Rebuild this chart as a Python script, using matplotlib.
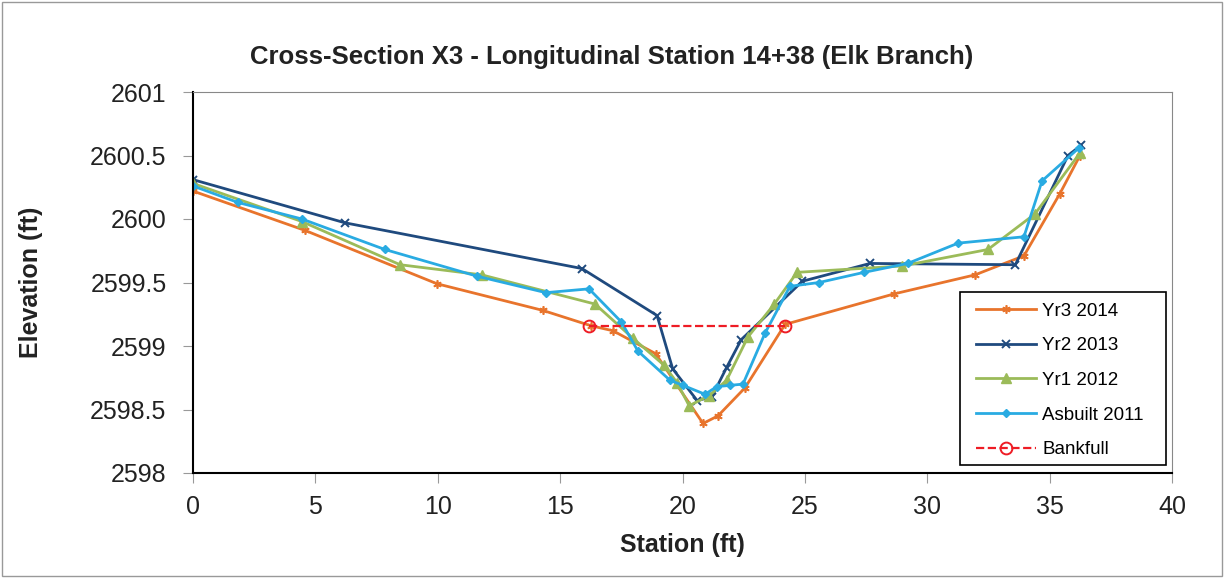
import matplotlib.pyplot as plt
import matplotlib.patches as mpatches
from matplotlib.ticker import FuncFormatter

plt.rcParams['font.family'] = ['Liberation Sans', 'DejaVu Sans']

# station / elevation readings for each survey
yr3_x = [0, 4.58, 9.97, 14.3, 16.25, 17.16, 18.9, 20.84, 21.45, 22.55, 24.19, 28.64, 31.95, 33.95, 35.42, 36.24]
yr3_y = [2600.22, 2599.91, 2599.49, 2599.28, 2599.16, 2599.12, 2598.94, 2598.39, 2598.45, 2598.67, 2599.17,
         2599.41, 2599.56, 2599.71, 2600.20, 2600.50]

yr2_x = [0, 6.21, 15.89, 18.96, 19.6, 20.6, 21.2, 21.8, 22.4, 24.9, 27.66, 33.6, 35.75, 36.28]
yr2_y = [2600.31, 2599.97, 2599.61, 2599.24, 2598.82, 2598.57, 2598.60, 2598.83, 2599.05, 2599.51, 2599.65,
         2599.64, 2600.50, 2600.58]

yr1_x = [0, 4.45, 8.46, 11.8, 16.43, 17.98, 19.24, 19.78, 20.27, 21.1, 21.8, 22.67, 23.75, 24.68, 28.97,
         32.48, 34.4, 36.24]
yr1_y = [2600.28, 2599.98, 2599.64, 2599.56, 2599.33, 2599.06, 2598.85, 2598.71, 2598.53, 2598.61, 2598.73,
         2599.07, 2599.33, 2599.58, 2599.63, 2599.76, 2600.04, 2600.52]

asb_x = [0, 1.84, 4.45, 7.84, 11.6, 14.42, 16.18, 17.5, 18.18, 19.49, 20.02, 20.92, 21.4, 21.94, 22.47,
         23.37, 24.39, 25.58, 27.42, 29.2, 31.26, 33.95, 34.69, 36.2]
asb_y = [2600.26, 2600.13, 2600.0, 2599.76, 2599.55, 2599.42, 2599.45, 2599.19, 2598.96, 2598.73, 2598.69,
         2598.62, 2598.68, 2598.69, 2598.70, 2599.10, 2599.47, 2599.50, 2599.58, 2599.65, 2599.81, 2599.86,
         2600.30, 2600.56]

bank_x = [16.2, 24.2]
bank_y = [2599.16, 2599.16]

fig = plt.figure(figsize=(12.24, 5.78), dpi=100)
ax = fig.add_axes([193 / 1224, 1 - 473 / 578, (1172 - 193) / 1224, (473 - 92) / 578])

ax.plot(yr3_x, yr3_y, color='#E8742C', lw=2, marker=(6, 2, 0), ms=6, mew=1.2, label='Yr3 2014')
ax.plot(yr2_x, yr2_y, color='#1F4A7E', lw=2, marker='x', ms=6, mew=1.4, label='Yr2 2013')
ax.plot(yr1_x, yr1_y, color='#9BBB59', lw=2, marker='^', ms=6.5, label='Yr1 2012')
ax.plot(asb_x, asb_y, color='#29ABE2', lw=2, marker='D', ms=4.5, label='Asbuilt 2011')
ax.plot(bank_x, bank_y, color='#EE1C25', lw=1.6, ls='--', marker='o', ms=8.5, mfc='none', mew=1.4,
        label='Bankfull')

ax.set_xlim(0, 40)
ax.set_ylim(2598, 2601)
ax.set_xticks(range(0, 41, 5))
ax.set_yticks([2598, 2598.5, 2599, 2599.5, 2600, 2600.5, 2601])
ax.yaxis.set_major_formatter(FuncFormatter(lambda v, p: '%g' % v))
ax.tick_params(labelsize=18, length=7, color='#999999', labelcolor='#222222')
ax.tick_params(axis='y', pad=12)
ax.tick_params(axis='x', pad=9)

for s in ['top', 'right']:
    ax.spines[s].set_color('#888888')
for s in ['left', 'bottom']:
    ax.spines[s].set_color('black')
    ax.spines[s].set_linewidth(1.5)

ax.set_xlabel('Station (ft)', fontsize=18, fontweight='bold', labelpad=10, color='#222222')
ax.set_ylabel('Elevation (ft)', fontsize=18, fontweight='bold', labelpad=34, color='#222222')
fig.text(0.5, 1 - 57 / 578, 'Cross-Section X3 - Longitudinal Station 14+38 (Elk Branch)',
         ha='center', va='center', fontsize=18.5, fontweight='bold', color='#222222')

# legend box drawn separately so the padding matches the Excel look
ax.add_patch(mpatches.Rectangle((0.7835, 0.021), 0.2104, 0.454, transform=ax.transAxes,
                                fill=True, facecolor='white', edgecolor='black', lw=1.2, zorder=4))
leg = ax.legend(loc='upper left', bbox_to_anchor=(0.7998, 0.447), borderaxespad=0, borderpad=0,
                fontsize=13.5, frameon=False, labelspacing=0.93, handlelength=3.2,
                handletextpad=0.32)
leg.set_zorder(5)

fig.patches.append(mpatches.Rectangle((0.002, 0.003), 0.996, 0.994, transform=fig.transFigure,
                                      fill=False, edgecolor='#999999', lw=1))

fig.savefig('out.png', dpi=100)
